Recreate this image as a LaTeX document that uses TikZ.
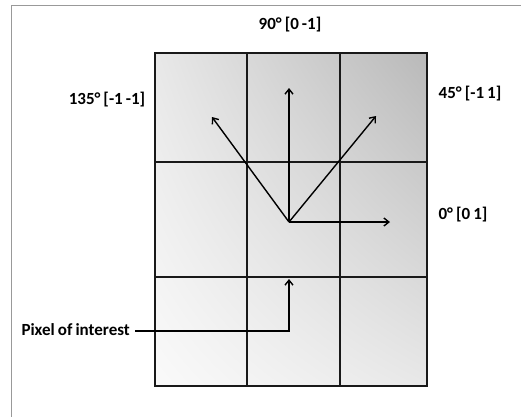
\documentclass[tikz,border=0pt]{standalone}
\usepackage{fontspec}
\setmainfont{Carlito}
\usetikzlibrary{arrows.meta,shadings}
\newcommand\tightsp{\spaceskip=0.18em plus 0pt minus 0pt\relax}
\begin{document}
\begin{tikzpicture}[x=1pt,y=-1pt,
  gridline/.style={line width=1.6pt,black!90},
  vec/.style={line width=1.4pt,-{Straight Barb[length=5pt,width=8pt,line width=1.4pt]}},
  lbl/.style={font=\bfseries\fontsize{17}{19}\selectfont\tightsp,inner sep=0pt}]
\useasboundingbox (0,0) rectangle (521,416);
\fill[white] (0,0) rectangle (521,416);
\draw[gray!80,line width=1pt] (11,5) rectangle (540,440);
% shaded grid
\shade[lower left=gray!4,upper left=gray!18,lower right=gray!18,upper right=gray!55]
  (155,53) rectangle (427,386);
\draw[gridline] (155,53) rectangle (427,386);
\draw[gridline] (247,53) -- (247,386) (340,53) -- (340,386);
\draw[gridline] (155,162) -- (427,162) (155,277) -- (427,277);
% vectors
\coordinate (c) at (289,222);
\coordinate (t90) at (289,88);
\coordinate (t135) at (212,117);
\coordinate (t45) at (376,116);
\coordinate (t0) at (390,222);
\draw[vec] (c) -- (t90);
\draw[vec] (c) -- (t135);
\draw[vec] (c) -- (t45);
\draw[vec] (c) -- (t0);
% labels
\node[lbl] (l90) at (290,25) {90° [0 -1]};
\node[lbl] (l135) at (107,100) {135° [-1 -1]};
\node[lbl] (l45) at (470,94) {45° [-1 1]};
\node[lbl] (l0) at (463,215) {0° [0 1]};
\node[lbl,anchor=east] (poi) at (130,330) {Pixel of interest};
\coordinate (bend) at (289,331);
\coordinate (ptip) at (289,279);
\draw[vec] (135,331) -- (bend) -- (ptip);
\end{tikzpicture}
\end{document}
